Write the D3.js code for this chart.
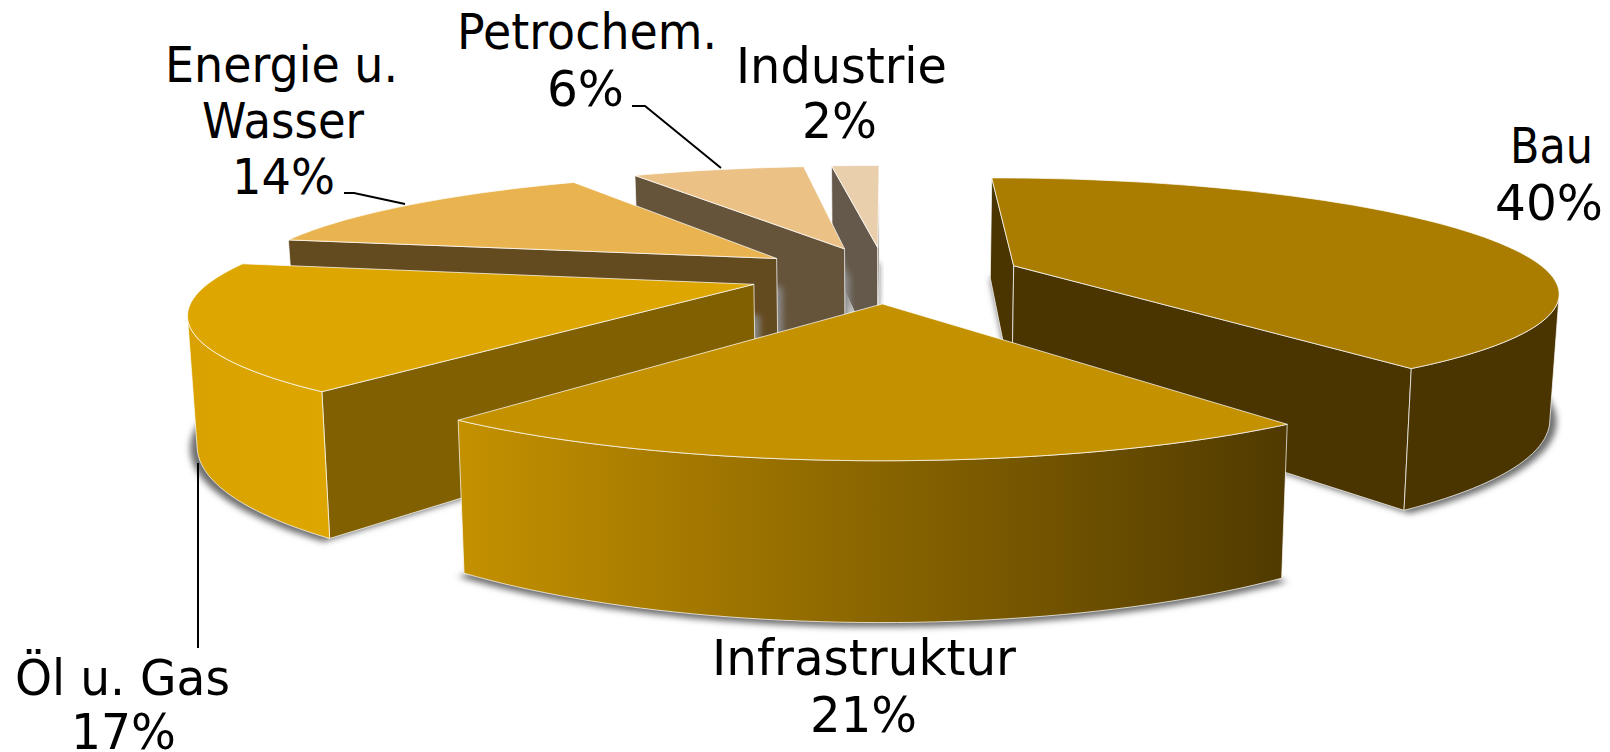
<!DOCTYPE html>
<html><head><meta charset="utf-8">
<script src="https://cdnjs.cloudflare.com/ajax/libs/d3/7.8.5/d3.min.js"></script>
<style>html,body{margin:0;padding:0;background:#fff}svg{display:block}text{font-family:"DejaVu Sans",Verdana,sans-serif;fill:#000}</style>
</head><body><svg id="c" width="1610" height="752"></svg>
<script>
// Data (shares; the labels show them rounded)
const categories = ["Bau","Infrastruktur","Öl u. Gas","Energie u. Wasser","Petrochem.","Industrie"];
const shares = [40,20.6,17.4,13.75,6.47,1.78];
const topColors = ["#aa7d00","#c49100","#dea600","#e9b44f","#ebc185","#e9cfac"];
const sideColors = ["#4a3500","#4a3500","#806000","#644a1f","#65533a","#65594b"];
const outerLeftColors = ["#4a3500","#c49100","#d9a200","#e9b44f","#ebc185","#e9cfac"];
const outerRightColors = ["#4a3500","#503a00","#dea600","#e9b44f","#ebc185","#e9cfac"];

// Label layout [text, x0, x1, baseline] per text line
const labelLines = [
  ["Bau",1510,1593,163],["40%",1495,1603,220],
  ["Infrastruktur",712,1016,675],["21%",810,917,732],
  ["Öl u. Gas",15,230,695],["17%",71,176,749],
  ["Energie u.",165,398,82],["Wasser",202,364,138],["14%",232,335,194],
  ["Petrochem.",457,717,49],["6%",547,624,106],
  ["Industrie",736,947,83],["2%",802,877,138]
];
const leaders = [
  [[344,193],[354,193],[405,204]],
  [[632,106],[645,106],[721,168]],
  [[198,463],[198,648]]
];

// Projection model (exploded pie in perspective)
const radius = 515, explode = 132, thickness = 118;
const sx = d3.scaleLinear().domain([0,1568]).range([0,1610]);
const sy = d3.scaleLinear().domain([0,732]).range([0,752]);
function project(x,y,z){
  const w = (0.986-0.0004*y)*(1+0.014*z);
  return [sx(862+x/w), sy(267+(0.204*y+thickness*z)/w)];
}
const svg = d3.select("#c"), defs = svg.append("defs");
defs.append("filter").attr("id","soft").attr("x","-10%").attr("y","-10%").attr("width","120%").attr("height","120%")
  .append("feGaussianBlur").attr("stdDeviation",3);
const line = d3.line(), closed = d3.line().curve(d3.curveLinearClosed);
const arcs = d3.pie().sort(null).startAngle(0).endAngle(2*Math.PI)(shares);

const slices = arcs.map((a,i)=>{
  const mid=(a.startAngle+a.endAngle)/2;
  const ox=Math.sin(mid)*explode, oy=-Math.cos(mid)*explode;
  const pt=(ang,z,r=radius)=>project(ox+Math.sin(ang)*r, oy-Math.cos(ang)*r, z);
  const n=Math.max(4,Math.round((a.endAngle-a.startAngle)/(Math.PI/120)));
  const angs=d3.range(n+1).map(k=>a.startAngle+(a.endAngle-a.startAngle)*k/n);
  return {i,depth:oy,angs,pt,apex:z=>project(ox,oy,z),a};
}).sort((p,q)=>p.depth-q.depth);

const area=q=>{let s=0;q.forEach((p,k)=>{const r=q[(k+1)%q.length];s+=p[0]*r[1]-r[0]*p[1];});return s/2;};
const edge="rgba(255,255,255,0.72)";

slices.forEach(s=>{
  const g=svg.append("g");
  const t0=s.angs[0], t1=s.angs[s.angs.length-1];
  // soft floor shadow
  g.append("path").attr("d",closed([s.apex(1.01),...s.angs.map(t=>s.pt(t,1.01,radius*1.012))]))
    .attr("fill","#6e6e6e").attr("filter","url(#soft)");
  // shadow cast beside a wall that faces away
  const hidden=area([s.pt(t1,0),s.apex(0),s.apex(1),s.pt(t1,1)])>=0;
  if(hidden){
    g.append("path").attr("d",closed([s.pt(t1,0.25),s.apex(0.25),s.apex(1),s.pt(t1,1)]))
      .attr("transform","translate(5,0)").attr("fill","#8a8a8a").attr("filter","url(#soft)");
  }
  const wall=(A,B,fill)=>{
    const q=[A(0),B(0),B(1),A(1)];
    if(area(q)<0) g.append("path").attr("d",closed(q)).attr("fill",fill).attr("stroke",edge).attr("stroke-width",1);
  };
  wall(z=>s.apex(z), z=>s.pt(t0,z), sideColors[s.i]);
  wall(z=>s.pt(t1,z), z=>s.apex(z), sideColors[s.i]);
  // outer curved wall: visible runs only
  let run=[];
  const flush=()=>{
    if(run.length>1){
      const top=run.map(t=>s.pt(t,0)), bot=run.map(t=>s.pt(t,1)).reverse();
      const xs=[...top,...bot].map(p=>p[0]);
      const id="g"+s.i;
      const lg=defs.append("linearGradient").attr("id",id).attr("gradientUnits","userSpaceOnUse")
        .attr("x1",d3.min(xs)).attr("x2",d3.max(xs)).attr("y1",0).attr("y2",0);
      lg.append("stop").attr("offset",0).attr("stop-color",outerLeftColors[s.i]);
      lg.append("stop").attr("offset",1).attr("stop-color",outerRightColors[s.i]);
      g.append("path").attr("d",closed([...top,...bot])).attr("fill",`url(#${id})`).attr("stroke",edge).attr("stroke-width",1);
    }
    run=[];
  };
  s.angs.slice(0,-1).forEach((t,k)=>{
    const u=s.angs[k+1];
    const vis=area([s.pt(t,0),s.pt(u,0),s.pt(u,1),s.pt(t,1)])<0;
    if(vis){ if(!run.length) run.push(t); run.push(u);} else flush();
  });
  flush();
  // top face
  g.append("path").attr("d",closed([s.apex(0),...s.angs.map(t=>s.pt(t,0))]))
    .attr("fill",topColors[s.i]).attr("stroke",edge).attr("stroke-width",1);
});

// leader lines
svg.append("g").selectAll("path").data(leaders).join("path")
  .attr("d",d=>line(d)).attr("fill","none").attr("stroke","#000").attr("stroke-width",2);

// labels
svg.append("g").selectAll("text").data(labelLines).join("text")
  .attr("x",d=>d[1]).attr("y",d=>d[3]).attr("font-size",49)
  .attr("textLength",d=>d[2]-d[1]).attr("lengthAdjust","spacingAndGlyphs")
  .text(d=>d[0]);
</script></body></html>
